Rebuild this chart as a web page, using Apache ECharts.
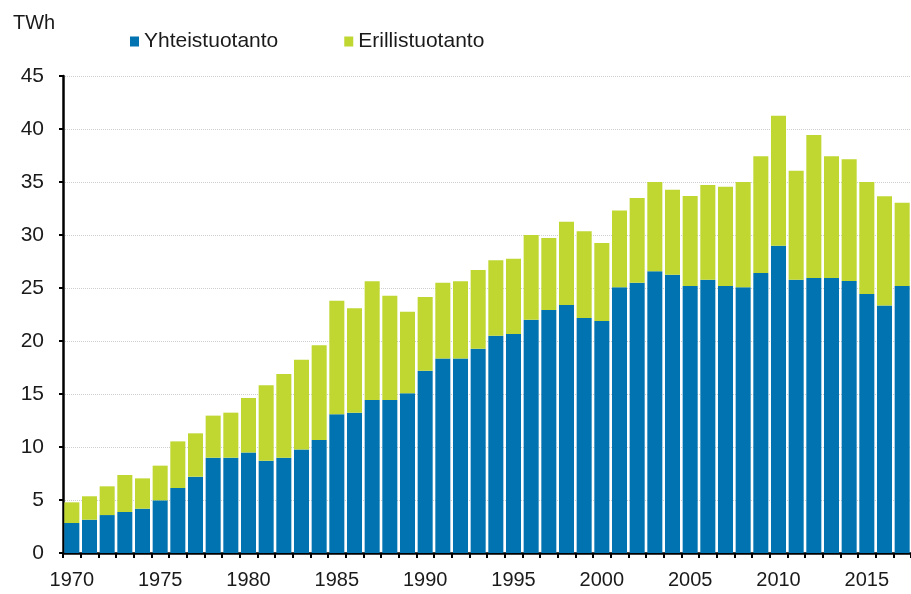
<!DOCTYPE html>
<html>
<head>
<meta charset="utf-8">
<script src="https://cdn.jsdelivr.net/npm/echarts@6/dist/echarts.min.js"></script>
<style>
    html, body { margin: 0; padding: 0; background: #fff; }
    #main { width: 911px; height: 594px; }
</style>
</head>
<body>
<div id="main"></div>
<script>
// vuodet 1970-2017
var years = ['1970', '1971', '1972', '1973', '1974', '1975', '1976', '1977', '1978', '1979',
    '1980', '1981', '1982', '1983', '1984', '1985', '1986', '1987', '1988', '1989',
    '1990', '1991', '1992', '1993', '1994', '1995', '1996', '1997', '1998', '1999',
    '2000', '2001', '2002', '2003', '2004', '2005', '2006', '2007', '2008', '2009',
    '2010', '2011', '2012', '2013', '2014', '2015', '2016', '2017'];

// TWh
var yhteistuotanto = [2.83, 3.14, 3.58, 3.87, 4.18, 4.97, 6.13, 7.2, 8.99, 8.99,
    9.47, 8.71, 8.99, 9.77, 10.66, 13.08, 13.24, 14.43, 14.43, 15.06,
    17.2, 18.36, 18.36, 19.28, 20.5, 20.66, 22.01, 22.92, 23.4, 22.17,
    21.88, 25.06, 25.5, 26.57, 26.26, 25.19, 25.79, 25.19, 25.06, 26.42,
    28.99, 25.79, 25.94, 25.94, 25.66, 24.43, 23.36, 25.19];

var erillistuotanto = [1.95, 2.21, 2.71, 3.49, 2.86, 3.27, 4.40, 4.09, 3.97, 4.25,
    5.15, 7.11, 7.90, 8.47, 8.93, 10.72, 9.84, 11.20, 9.85, 7.71,
    6.95, 7.14, 7.27, 7.42, 7.11, 7.11, 7.99, 6.80, 7.86, 8.18,
    7.37, 7.24, 7.99, 8.43, 8.02, 8.49, 8.93, 9.37, 9.94, 11.00,
    12.27, 10.28, 13.49, 11.48, 11.48, 10.57, 10.29, 7.86];

var yTicks = [0, 45, 5]; // min, max, interval

var font = 'Liberation Sans, Arial, sans-serif';

var myChart = echarts.init(document.getElementById('main'), null, { renderer: 'canvas' });

var option = {
    backgroundColor: '#fff',
    animation: false,
    title: {
        text: 'TWh',
        left: 8,
        top: 8,
        textStyle: {
            fontFamily: font,
            fontSize: 20,
            fontWeight: 'normal',
            color: '#1a1a1a'
        }
    },
    legend: {
        left: 125,
        top: 26,
        itemWidth: 9,
        itemHeight: 10,
        itemGap: 66,
        icon: 'rect',
        textStyle: {
            fontFamily: font,
            fontSize: 21,
            color: '#1a1a1a'
        },
        data: ['Yhteistuotanto', 'Erillistuotanto']
    },
    grid: {
        left: 63,
        top: 76,
        bottom: 41,
        width: 852,
        containLabel: false
    },
    xAxis: {
        type: 'category',
        data: years,
        boundaryGap: true,
        axisLine: { lineStyle: { color: '#000', width: 2.5 } },
        axisTick: {
            show: true,
            interval: 0,
            length: 5,
            lineStyle: { color: '#000', width: 2 }
        },
        axisLabel: {
            interval: 4,
            margin: 17,
            fontFamily: font,
            fontSize: 20,
            color: '#1a1a1a'
        }
    },
    yAxis: {
        type: 'value',
        min: yTicks[0],
        max: yTicks[1],
        interval: yTicks[2],
        axisLine: { show: true, lineStyle: { color: '#000', width: 2.5 } },
        axisTick: {
            show: true,
            length: 4,
            lineStyle: { color: '#000', width: 2 }
        },
        axisLabel: {
            margin: 19,
            fontFamily: font,
            fontSize: 21,
            color: '#1a1a1a'
        },
        splitLine: {
            lineStyle: { color: '#cfcfcf', type: [1, 1], width: 1 }
        }
    },
    series: [
        {
            name: 'Yhteistuotanto',
            type: 'bar',
            stack: 'total',
            barCategoryGap: '15%',
            itemStyle: { color: '#0073b0' },
            data: yhteistuotanto
        },
        {
            name: 'Erillistuotanto',
            type: 'bar',
            stack: 'total',
            barCategoryGap: '15%',
            itemStyle: { color: '#bfd730' },
            data: erillistuotanto
        }
    ]
};
myChart.setOption(option);
</script>
</body>
</html>
